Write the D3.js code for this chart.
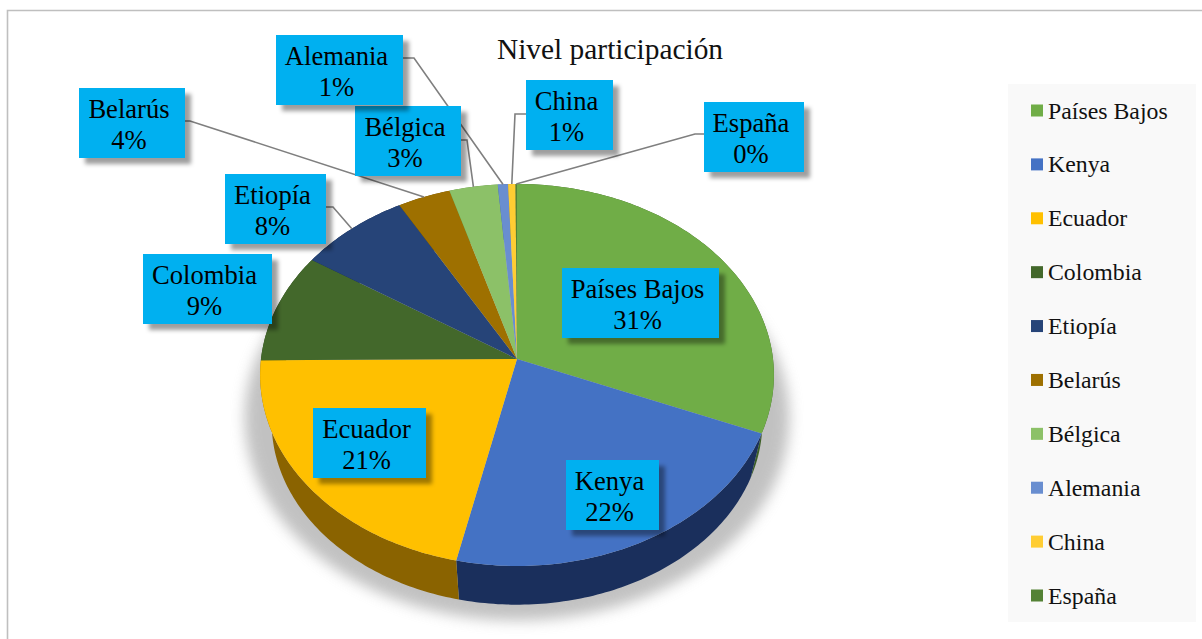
<!DOCTYPE html>
<html>
<head>
<meta charset="utf-8">
<script src="https://cdn.jsdelivr.net/npm/d3@7"></script>
<style>
  body { margin: 0; background: #fff; }
  text { font-family: "Liberation Serif", "Times New Roman", serif; }
</style>
</head>
<body>
<svg width="1202" height="639"></svg>
<script>
// The data
var categories = ["Países Bajos", "Kenya", "Ecuador", "Colombia", "Etiopía", "Belarús", "Bélgica", "Alemania", "China", "España"];
var shares = [31.2, 22.3, 21.4, 9.3, 7.6, 3.6, 3.3, 0.7, 0.5, 0.1];
var percentLabels = ["31%", "22%", "21%", "9%", "8%", "4%", "3%", "1%", "1%", "0%"];
var chartTitle = "Nivel participación";

// Styles, same order as categories
var topColors = ["#70ad47", "#4472c4", "#ffc000", "#43682b", "#264478", "#9e7000", "#8cc168", "#698ed0", "#ffcd33", "#548235"];
var wallColors = ["#3c5f26", "#1a2f5c", "#8a6300", "#2c451c", "#162a4c", "#6a4b00", "#5d8a40", "#3d5f9a", "#b08c10", "#375a20"];

// Label boxes: left, top, right, and the elbow of the leader line (null = inside the slice)
var boxes = [
  [562, 268, 719, null],
  [566, 460, 659, null],
  [313, 408, 426, null],
  [143, 254, 272, null],
  [225, 174, 326, [333, 207]],
  [79, 88, 185, [190, 121]],
  [355, 106, 461, [467, 140]],
  [276, 35, 403, [414, 58]],
  [526, 80, 613, [515, 114]],
  [704, 102, 804, [695, 134]]
];

var svg = d3.select("svg");

var defs = svg.append("defs");
defs.append("filter").attr("id", "boxShadow")
    .attr("x", "-10%").attr("y", "-10%").attr("width", "130%").attr("height", "130%")
  .append("feDropShadow")
    .attr("dx", 6).attr("dy", 6).attr("stdDeviation", 2)
    .attr("flood-color", "#000").attr("flood-opacity", 0.38);
defs.append("filter").attr("id", "pieShadow")
    .attr("x", "-15%").attr("y", "-15%").attr("width", "130%").attr("height", "130%")
  .append("feGaussianBlur").attr("stdDeviation", 7);

// Chart frame, only top and left are inside the picture
svg.append("path")
    .attr("d", "M7.5,639V10.5H1202")
    .attr("fill", "none")
    .attr("stroke", "#bfbfbf")
    .attr("stroke-width", 1.6);

// Title
svg.append("text")
    .attr("x", 610).attr("y", 59)
    .attr("text-anchor", "middle")
    .style("font-size", "29.4px")
    .attr("fill", "#111")
    .text(chartTitle);

// Legend
svg.append("rect")
    .attr("x", 1008).attr("y", 84).attr("width", 188).attr("height", 538)
    .attr("fill", "#f9f9f9");

var legendY = d3.scalePoint().domain(categories).range([110.5, 595.5]);

var legend = svg.selectAll(".legend-item")
    .data(categories)
    .enter().append("g")
    .attr("class", "legend-item")
    .attr("transform", function(d) { return "translate(1031," + legendY(d) + ")"; });

legend.append("rect")
    .attr("y", -6).attr("width", 12).attr("height", 12)
    .attr("fill", function(d, i) { return topColors[i]; });

legend.append("text")
    .attr("x", 17).attr("y", 8)
    .style("font-size", "23.8px")
    .attr("fill", "#111")
    .text(function(d) { return d; });

// Excel style 3D pie: circle seen in perspective, so the apex is above the centre of the ellipse
var cx = 517, cy = 359, rx = 256, ry = 189.65, persp = -0.0838;

function rim(angle, scale, dy) {
  var u = Math.sin(angle), v = -Math.cos(angle), w = 1 + persp * v;
  return [cx + scale * rx * u / w, cy + dy + scale * ry * v / w];
}

function arcPoints(a0, a1, scale, dy) {
  var n = Math.max(2, Math.ceil((a1 - a0) * 60));
  return d3.range(n + 1).map(function(i) {
    return rim(a0 + (a1 - a0) * i / n, scale, dy);
  });
}

var line = d3.line();
var slices = d3.pie().sort(null)(shares);

// Soft shadow under the pie
svg.append("path")
    .attr("d", line(arcPoints(0, 2 * Math.PI, 1.06, 42)) + "Z")
    .attr("fill", "#999")
    .attr("opacity", 0.6)
    .attr("filter", "url(#pieShadow)");

// Side wall
svg.append("g").selectAll("path")
    .data(slices)
    .enter().append("path")
    .attr("d", function(d) {
      var top = arcPoints(d.startAngle, d.endAngle, 1, 0);
      var bottom = arcPoints(d.startAngle, d.endAngle, 0.955, 48).reverse();
      return line(top.concat(bottom)) + "Z";
    })
    .attr("fill", function(d, i) { return wallColors[i]; });

// Top face
svg.append("g").selectAll("path")
    .data(slices)
    .enter().append("path")
    .attr("d", function(d) {
      return line([[cx, cy]].concat(arcPoints(d.startAngle, d.endAngle, 1, 0))) + "Z";
    })
    .attr("fill", function(d, i) { return topColors[i]; });

// Leader lines
svg.append("g").selectAll("path")
    .data(slices.filter(function(d, i) { return boxes[i][3]; }))
    .enter().append("path")
    .attr("d", function(d) {
      var b = boxes[d.index];
      var startX = b[3][0] > b[2] ? b[2] : b[0];
      return line([[startX, b[3][1]], b[3], rim((d.startAngle + d.endAngle) / 2, 1, 0)]);
    })
    .attr("fill", "none")
    .attr("stroke", "#7f7f7f")
    .attr("stroke-width", 1.6);

// Data labels
var labels = svg.selectAll(".data-label")
    .data(categories)
    .enter().append("g")
    .attr("class", "data-label");

labels.append("rect")
    .attr("x", function(d, i) { return boxes[i][0]; })
    .attr("y", function(d, i) { return boxes[i][1]; })
    .attr("width", function(d, i) { return boxes[i][2] - boxes[i][0]; })
    .attr("height", 70)
    .attr("fill", "#00b0f0")
    .attr("filter", "url(#boxShadow)");

labels.append("text")
    .attr("x", function(d, i) { return (boxes[i][0] + boxes[i][2]) / 2 - 3; })
    .attr("y", function(d, i) { return boxes[i][1] + 30; })
    .attr("text-anchor", "middle")
    .style("font-size", "26.6px")
    .attr("fill", "#000")
    .text(function(d) { return d; });

labels.append("text")
    .attr("x", function(d, i) { return (boxes[i][0] + boxes[i][2]) / 2 - 3; })
    .attr("y", function(d, i) { return boxes[i][1] + 61; })
    .attr("text-anchor", "middle")
    .style("font-size", "26.6px")
    .attr("fill", "#000")
    .text(function(d, i) { return percentLabels[i]; });
</script>
</body>
</html>
